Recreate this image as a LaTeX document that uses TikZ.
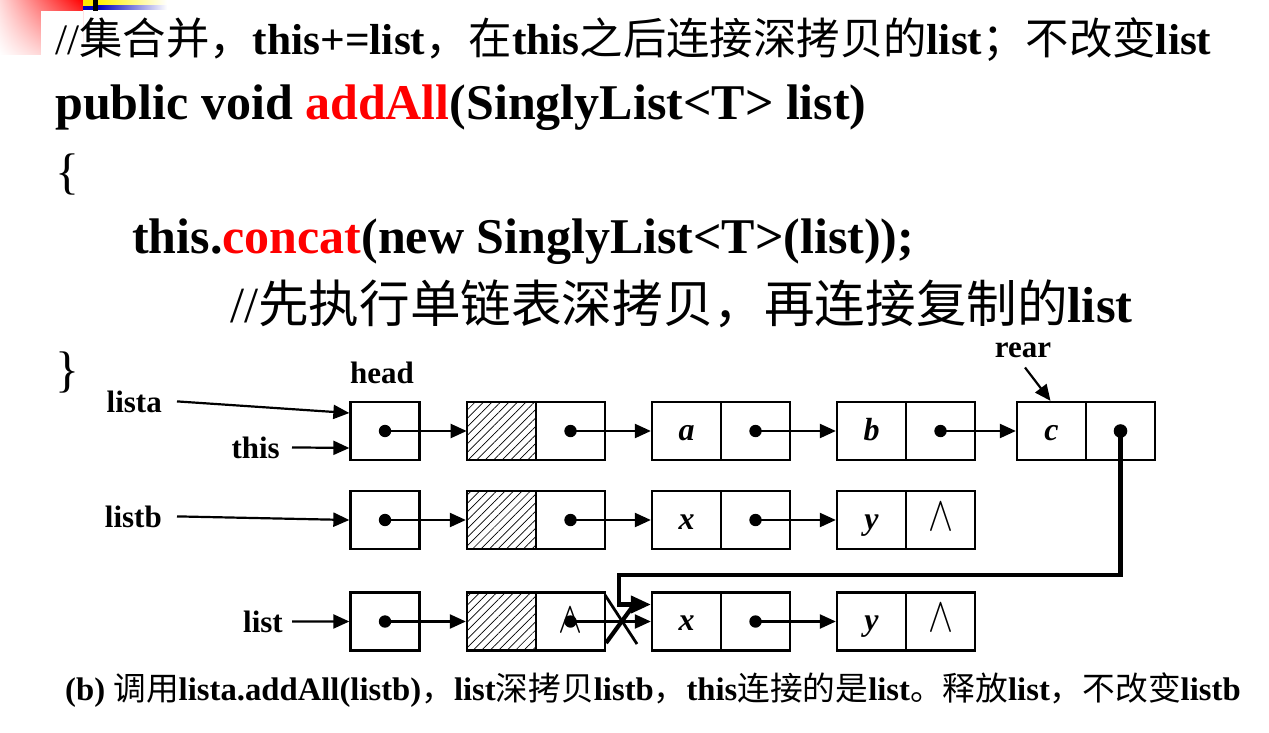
\documentclass[tikz,border=0pt]{standalone}
\usepackage{fontspec}
\setmainfont{Liberation Serif}
\newfontfamily\zhfont{Noto Sans CJK SC}
\newcommand\zh[1]{{\zhfont\mdseries #1}}
\usetikzlibrary{arrows.meta,patterns.meta,calc,shadings}
\begin{document}
\begin{tikzpicture}[x=1pt,y=-1pt,
  cell/.style={draw,line width=2.3pt,minimum width=69pt,minimum height=58pt,inner sep=0pt,text height=18pt,text depth=0pt,font=\fontsize{32}{32}\selectfont\bfseries\itshape},
  hcell/.style={cell,pattern={Lines[angle=45,distance=6pt,line width=0.7pt]}},
  ptr/.style={line width=2.2pt,-{Triangle[length=16pt,width=14pt]}},
  lnk/.style={line width=4.2pt,-{Triangle[length=20pt,width=17pt]}},
  lbl/.style={inner sep=0pt,font=\fontsize{31}{31}\selectfont\bfseries},
  code/.style={inner sep=0pt,anchor=base west,font=\fontsize{50}{50}\selectfont\bfseries},
  nul/.style={inner sep=0pt,font=\fontsize{10}{10}\selectfont}
]
\useasboundingbox (0,0) rectangle (1269,733);
\fill[white] (0,0) rectangle (1269,733);
% slide decoration
\shade[upper right=red, upper left=red!15, lower left=white, lower right=red!30] (0,0) rectangle (83,55);
\fill[white] (41,11) rectangle (83,55);
\fill[yellow!90!orange] (83,0) rectangle (93,6);
\fill[blue!75!black] (83,6) rectangle (93,10);
\fill[black] (93,0) rectangle (98,11);
\shade[left color=yellow!90!orange, right color=white] (98,0) rectangle (167,6);
\shade[left color=blue!75!black, right color=white] (98,6) rectangle (167,10);
% code text
\node[code,font=\fontsize{43.4}{43.4}\selectfont\bfseries] (l1) at (55,55) {{\mdseries //}\zh{集合并，}this+=list\zh{，在}this\zh{之后连接深拷贝的}list\zh{；不改变}list};
\node[code] (l2) at (55,120) {public void \textcolor{red}{addAll}(SinglyList<T> list)};
\node[code] (l3) at (55,188) {\mdseries\{};
\node[code] (l4) at (132,253) {this.\textcolor{red}{concat}(new SinglyList<T>(list));};
\node[code,font=\fontsize{50.6}{50.6}\selectfont\bfseries] (l5) at (230,322) {{\mdseries //}\zh{先执行单链表深拷贝，再连接复制的}list};
\node[code] (l6) at (55,386) {\mdseries\}};
% row 1
\node[cell] (h1) at (385,431) {};
\node[hcell] (p1d) at (501.5,431) {};
\node[cell] (p1n) at (570.5,431) {};
\node[cell] (a1d) at (686.5,431) {a};
\node[cell] (a1n) at (755.5,431) {};
\node[cell] (b1d) at (871.5,431) {b};
\node[cell] (b1n) at (940.5,431) {};
\node[cell] (c1d) at (1051.5,431) {c};
\node[cell] (c1n) at (1120.5,431) {};
% row 2
\node[cell] (h2) at (385,520) {};
\node[hcell] (p2d) at (501.5,520) {};
\node[cell] (p2n) at (570.5,520) {};
\node[cell] (x2d) at (686.5,520) {x};
\node[cell] (x2n) at (755.5,520) {};
\node[cell] (y2d) at (871.5,520) {y};
\node[cell] (y2n) at (940.5,520) {};
% row 3
\node[cell] (h3) at (385,621.5) {};
\node[hcell] (p3d) at (501.5,621.5) {};
\node[cell] (p3n) at (570.5,621.5) {};
\node[cell] (x3d) at (686.5,621.5) {x};
\node[cell] (x3n) at (755.5,621.5) {};
\node[cell] (y3d) at (871.5,621.5) {y};
\node[cell] (y3n) at (940.5,621.5) {};
% null markers
\node[nul] (z2) at ([yshift=3.5pt]y2n.center) {\scalebox{3.75}[4.9]{$\wedge$}};
\node[nul] (z3) at ([yshift=3.5pt]y3n.center) {\scalebox{3.75}[4.9]{$\wedge$}};
\node[nul] (z1) at ([yshift=1.5pt]p3n.center) {\scalebox{3.6}[4.4]{$\wedge$}};
% dots
\foreach \n in {h1,p1n,a1n,b1n,h2,p2n,x2n,h3,p3n,x3n}
  \fill (\n.center) circle[radius=6.2pt];
\fill (c1n.center) circle[radius=6.8pt];
% pointers
\draw[ptr] (h1.center) -- (p1d.west);
\draw[ptr] (p1n.center) -- (a1d.west);
\draw[ptr] (a1n.center) -- (b1d.west);
\draw[ptr] (b1n.center) -- (c1d.west);
\draw[ptr] (h2.center) -- (p2d.west);
\draw[ptr] (p2n.center) -- (x2d.west);
\draw[ptr] (x2n.center) -- (y2d.west);
\draw[ptr] (h3.center) -- (p3d.west);
\draw[ptr] (p3n.center) -- (x3d.west);
\draw[ptr] (x3n.center) -- (y3d.west);
% link from rear to copied list
\coordinate (bend) at (619,575);
\draw[lnk] (c1n.center) |- (bend) |- ([yshift=17pt]x3d.west);
% cross mark
\draw[line width=2.8pt] (605,595) -- (637,644);
\draw[line width=4.2pt] (606,643) -- (633,606);
% labels
\node[lbl,anchor=base] (head) at (382,383) {head};
\node[lbl,anchor=base] (rear) at (1023,357) {rear};
\node[lbl,anchor=base east] (lista) at (162,412) {lista};
\node[lbl,anchor=base east] (this) at (280,458) {this};
\node[lbl,anchor=base east] (listb) at (162,527) {listb};
\node[lbl,anchor=base east] (list) at (283,632) {list};
\draw[ptr] ([xshift=15pt]lista.east) -- ([yshift=18pt]h1.west);
\draw[ptr] ([xshift=12pt]this.east) -- ([yshift=-17pt]h1.west);
\draw[ptr] ([xshift=15pt]listb.east) -- (h2.west);
\draw[ptr] ([xshift=9pt]list.east) -- (h3.west);
\draw[ptr] ([xshift=2pt,yshift=-10pt]rear.south) -- ([xshift=-1pt]c1d.north);
% caption
\node[inner sep=0pt,anchor=base west,font=\fontsize{32.7}{32.7}\selectfont\bfseries] (cap) at (65,700) {(b) \zh{调用}lista.addAll(listb)\zh{，}list\zh{深拷贝}listb\zh{，}this\zh{连接的是}list\zh{。释放}list\zh{，不改变}listb};
\end{tikzpicture}
\end{document}
